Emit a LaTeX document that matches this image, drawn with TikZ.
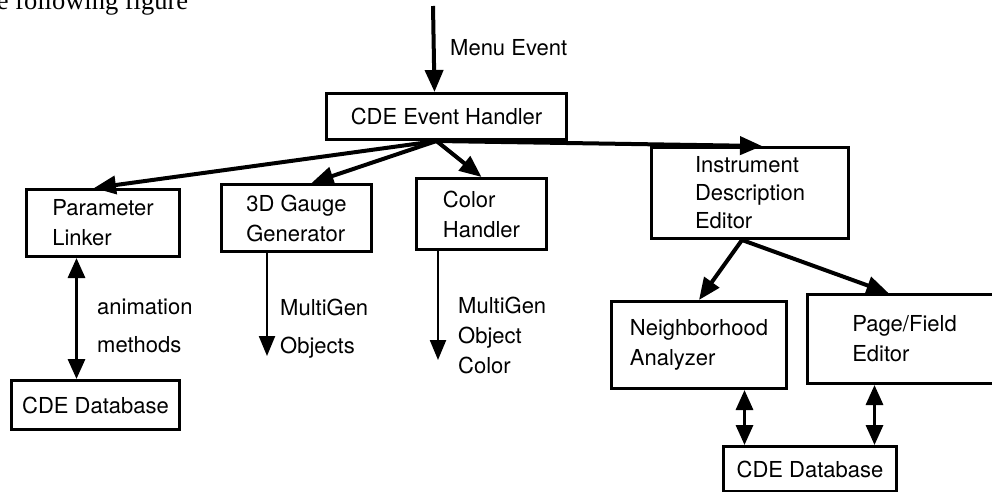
\documentclass[tikz,border=0pt]{standalone}
\usepackage{fontspec}
\setmainfont{TeX Gyre Heros}
\newfontfamily\bodyserif{Liberation Serif}
\usetikzlibrary{arrows.meta}

\begin{document}
\begin{tikzpicture}[
        x=1pt, y=-1pt,
        every node/.style = {font=\fontsize{22}{30}\selectfont, align=left},
        box/.style = {draw, line width=3pt, inner sep=0pt, anchor=north west},
        flow/.style = {line width=4pt, -{Triangle[length=22pt, width=18pt]}},
        thinflow/.style = {line width=2.2pt, -{Triangle[length=20pt, width=16pt]}},
        both/.style = {line width=3.2pt, {Triangle[length=20pt, width=17pt]}-{Triangle[length=20pt, width=17pt]}},
        tag/.style = {anchor=north west, inner sep=0pt}
        ]
    \clip (0,0) rectangle (992,491);
    % cut-off line of body text above the figure
    \node[font=\bodyserif\fontsize{26.5}{30}\selectfont, anchor=base west, inner sep=0pt] (bodyline) at (-24,9) {the following figure};

    \node[box, minimum width=240pt, minimum height=46pt] (evh) at (325,92) {CDE Event Handler};
    \node[box, minimum width=153pt, minimum height=67pt] (plink) at (25,188) {Parameter\\Linker};
    \node[box, minimum width=150pt, minimum height=67pt] (gauge) at (220,183) {3D Gauge\\Generator};
    \node[box, minimum width=130pt, minimum height=71pt] (color) at (415,177) {Color\\Handler};
    \node[box, minimum width=197pt, minimum height=91pt, font=\fontsize{22}{28}\selectfont] (instr) at (650,146) {Instrument\\Description\\Editor};
    \node[box, minimum width=175pt, minimum height=87pt] (neigh) at (610,300) {Neighborhood\\Analyzer};
    \node[box, minimum width=194pt, minimum height=89pt] (page) at (806,293) {Page/Field\\Editor};
    \node[box, minimum width=168pt, minimum height=49pt] (dbleft) at (10,379) {CDE Database};
    \node[box, minimum width=173pt, minimum height=45pt] (dbright) at (722,445) {CDE Database};

    % labels
    \node[tag] (menulbl) at (450,39) {Menu Event};
    \node[tag, font=\fontsize{22}{38}\selectfont] (animlbl) at (97,299) {animation\\methods};
    \node[tag, font=\fontsize{22}{38}\selectfont] (gaugelbl) at (280,299) {MultiGen\\Objects};
    \node[tag] (colorlbl) at (458,297) {MultiGen\\Object\\Color};

    \coordinate (menuin) at (433,6);
    \coordinate (fork) at ([xshift=-10pt]evh.south);
    \coordinate (gaugeout) at (267,356);
    \coordinate (colorout) at (438,360);

    % event flow
    \draw[flow] (menuin) -- ([xshift=-12pt]evh.north);
    \draw[flow] (fork) -- ([xshift=-9pt]plink.north);
    \draw[flow] (fork) -- ([xshift=15pt]gauge.north);
    \draw[flow] (fork) -- (color.north);
    \draw[flow] (fork) -- ([xshift=12pt]instr.north);
    \draw[flow] ([xshift=-8pt]instr.south) -- (neigh.north);
    \draw[flow] ([xshift=-8pt]instr.south) -- ([xshift=-16pt]page.north);

    % outputs
    \draw[thinflow] (gauge.south -| gaugeout) -- (gaugeout);
    \draw[thinflow] (color.south -| colorout) -- (colorout);

    % database links
    \draw[both] ([xshift=-26.5pt]plink.south) -- ([xshift=-26.5pt]plink.south |- dbleft.north);
    \draw[both] ([xshift=45.5pt]neigh.south) -- ([xshift=45.5pt]neigh.south |- dbright.north);
    \draw[both] ([xshift=-30pt]page.south) -- ([xshift=-30pt]page.south |- dbright.north);
\end{tikzpicture}
\end{document}
